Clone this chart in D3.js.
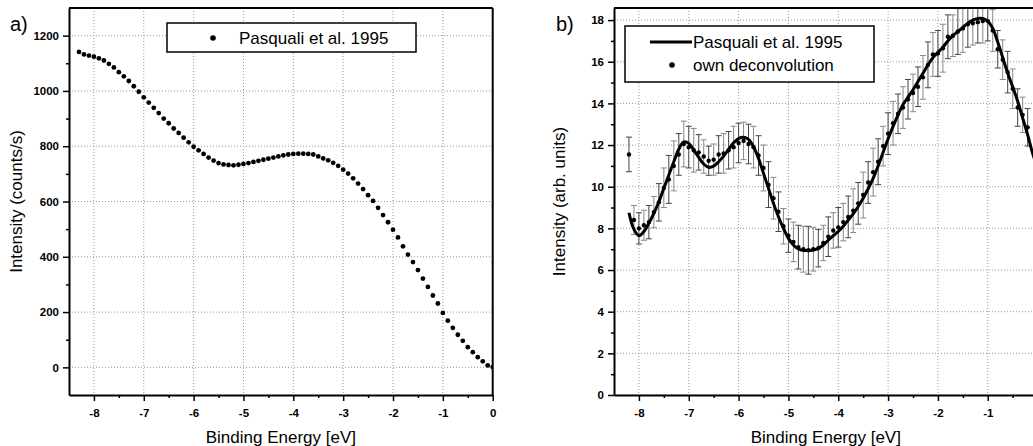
<!DOCTYPE html>
<html>
<head>
<meta charset="utf-8">
<script src="https://cdn.jsdelivr.net/npm/d3@7"></script>
<style>
  body { margin: 0; background: #fff; }
  svg text { font-family: "Liberation Sans", Arial, sans-serif; fill: #000; }
</style>
</head>
<body>
<script>
// panel a: Pasquali et al. 1995 (dots)
var energyA = [-8.3,-8.2,-8.1,-8.0,-7.9,-7.8,-7.7,-7.6,-7.5,-7.4,-7.3,-7.2,-7.1,-7.0,-6.9,-6.8,-6.7,-6.6,-6.5,-6.4,
  -6.3,-6.2,-6.1,-6.0,-5.9,-5.8,-5.7,-5.6,-5.5,-5.4,-5.3,-5.2,-5.1,-5.0,-4.9,-4.8,-4.7,-4.6,-4.5,-4.4,
  -4.3,-4.2,-4.1,-4.0,-3.9,-3.8,-3.7,-3.6,-3.5,-3.4,-3.3,-3.2,-3.1,-3.0,-2.9,-2.8,-2.7,-2.6,-2.5,-2.4,
  -2.3,-2.2,-2.1,-2.0,-1.9,-1.8,-1.7,-1.6,-1.5,-1.4,-1.3,-1.2,-1.1,-1.0,-0.9,-0.8,-0.7,-0.6,-0.5,-0.4,
  -0.3,-0.2,-0.1,0];
var countsA = [1141,1132,1128,1124,1118,1110,1098,1085,1068,1053,1036,1017,997,977,958,939,920,900,883,864,
  848,831,814,798,785,772,759,748,739,734,732,731,733,736,739,743,747,751,755,759,
  763,767,770,772,773,773,772,770,763,756,749,740,729,715,701,684,665,645,623,602,
  577,551,525,498,470,438,408,381,352,321,291,260,231,197,169,143,118,96,73,55,
  37,22,7,1];

// panel b: own deconvolution (dots + error bars)
var energyB = [-8.2,-8.1,-8.0,-7.9,-7.8,-7.7,-7.6,-7.5,-7.4,-7.3,-7.2,-7.1,-7.0,-6.9,-6.8,-6.7,-6.6,-6.5,-6.4,-6.3,
  -6.2,-6.1,-6.0,-5.9,-5.8,-5.7,-5.6,-5.5,-5.4,-5.3,-5.2,-5.1,-5.0,-4.9,-4.8,-4.7,-4.6,-4.5,-4.4,-4.3,
  -4.2,-4.1,-4.0,-3.9,-3.8,-3.7,-3.6,-3.5,-3.4,-3.3,-3.2,-3.1,-3.0,-2.9,-2.8,-2.7,-2.6,-2.5,-2.4,-2.3,
  -2.2,-2.1,-2.0,-1.9,-1.8,-1.7,-1.6,-1.5,-1.4,-1.3,-1.2,-1.1,-1.0,-0.9,-0.8,-0.7,-0.6,-0.5,-0.4,-0.3,
  -0.2];
var decoB = [11.55,8.40,8.00,8.15,8.30,8.78,9.25,9.95,10.35,11.00,11.55,12.05,11.90,11.75,11.65,11.45,11.25,11.30,11.55,11.60,
  11.75,11.90,12.10,12.20,12.05,11.90,11.50,10.90,10.10,9.45,8.80,8.10,7.65,7.35,7.10,7.00,6.95,7.00,7.05,7.30,
  7.60,7.90,8.05,8.30,8.55,8.85,9.20,9.60,10.20,10.70,11.20,11.95,12.55,13.05,13.50,13.80,14.20,14.50,14.80,15.25,
  15.85,16.35,16.40,16.65,17.20,17.25,17.45,17.60,17.80,17.85,17.90,17.95,17.95,17.50,16.60,16.10,15.50,14.70,13.80,13.45,
  12.85];
var errB = [0.83,0.70,0.75,0.72,0.80,0.75,0.90,0.95,1.15,1.20,1.00,1.10,1.00,1.05,0.85,0.80,0.70,0.75,0.90,0.95,
  0.90,1.00,0.95,0.90,0.95,1.00,0.95,1.10,1.10,1.00,0.95,0.85,0.80,0.95,1.05,1.10,1.15,1.05,0.90,0.85,
  0.95,0.85,0.95,0.90,1.00,1.05,1.00,1.10,1.00,1.15,1.10,0.95,1.00,1.05,0.95,1.00,0.95,0.90,0.95,1.05,
  1.10,1.05,1.10,1.15,1.05,1.00,1.10,1.15,1.10,1.05,1.00,1.05,0.95,1.00,0.90,0.95,1.00,0.95,0.90,0.85,
  0.90];

// panel b: Pasquali et al. 1995 (line)
var curveE = [-8.2,-8.1,-8.0,-7.9,-7.8,-7.7,-7.6,-7.5,-7.4,-7.3,-7.2,-7.1,-7.0,-6.9,-6.8,-6.7,-6.6,-6.5,-6.4,-6.3,
  -6.2,-6.1,-6.0,-5.9,-5.8,-5.7,-5.6,-5.5,-5.4,-5.3,-5.2,-5.1,-5.0,-4.9,-4.8,-4.7,-4.6,-4.5,-4.4,-4.3,
  -4.2,-4.1,-4.0,-3.9,-3.8,-3.7,-3.6,-3.5,-3.4,-3.3,-3.2,-3.1,-3.0,-2.9,-2.8,-2.7,-2.6,-2.5,-2.4,-2.3,
  -2.2,-2.1,-2.0,-1.9,-1.8,-1.7,-1.6,-1.5,-1.4,-1.3,-1.2,-1.1,-1.0,-0.9,-0.8,-0.7,-0.6,-0.5,-0.4,-0.3,
  -0.2,-0.1,0];
var curveB = [8.75,7.95,7.65,7.85,8.25,8.72,9.28,9.92,10.56,11.2,11.8,12.15,12.08,11.76,11.41,11.09,10.93,10.99,11.2,11.47,
  11.79,12.11,12.31,12.37,12.27,11.92,11.36,10.64,9.92,9.2,8.56,8.0,7.52,7.2,7.01,6.94,6.94,6.96,7.04,7.2,
  7.44,7.65,7.85,8.1,8.4,8.7,9.05,9.45,9.9,10.4,11.0,11.65,12.3,12.9,13.45,13.95,14.3,14.65,15.05,15.45,
  15.85,16.2,16.45,16.7,17.0,17.25,17.45,17.65,17.85,18.0,18.08,18.08,17.95,17.6,16.95,16.2,15.45,14.8,14.1,13.3,
  12.5,11.6,10.9];

var xTicksA = [-8,-7,-6,-5,-4,-3,-2,-1,0];
var xTicksB = [-8,-7,-6,-5,-4,-3,-2,-1];   // 0 lies outside the window
var xMinor = [-7.5,-6.5,-5.5,-4.5,-3.5,-2.5,-1.5,-0.5];
var yTicksA = [0,200,400,600,800,1000,1200];
var yMinorA = [100,300,500,700,900,1100];
var yTicksB = [0,2,4,6,8,10,12,14,16,18];
var yMinorB = [1,3,5,7,9,11,13,15,17];

var W = 1033, H = 446;
var top_ = 8, bottom = 395;

var svg = d3.select("body").append("svg")
    .attr("width", W)
    .attr("height", H);

svg.append("rect").attr("width", W).attr("height", H).attr("fill", "#fff");

var xA = d3.scaleLinear().domain([-8.5, 0]).range([69, 492.7]);
var yA = d3.scaleLinear().domain([-100, 1300]).range([bottom, top_]);
var xB = d3.scaleLinear().domain([-8.5, 0]).range([614, 1037.6]);
var yB = d3.scaleLinear().domain([0, 18.58]).range([bottom, top_]);

// dotted grid + clip rect for one panel
function frame(x, y, xTicks, yTicks, clipId) {
    var g = svg.append("g");
    var x0 = x.range()[0], x1 = x.range()[1];

    g.selectAll(".vgrid").data(xTicks.filter(function(d){ return d < 0; }))
        .enter().append("line")
        .attr("x1", function(d){ return x(d); })
        .attr("x2", function(d){ return x(d); })
        .attr("y1", top_).attr("y2", bottom)
        .attr("stroke", "#999").attr("stroke-width", 1)
        .attr("stroke-dasharray", "1,2");

    g.selectAll(".hgrid").data(yTicks)
        .enter().append("line")
        .attr("x1", x0).attr("x2", x1)
        .attr("y1", function(d){ return y(d); })
        .attr("y2", function(d){ return y(d); })
        .attr("stroke", "#999").attr("stroke-width", 1)
        .attr("stroke-dasharray", "1,2");

    svg.append("clipPath").attr("id", clipId)
        .append("rect")
        .attr("x", x0).attr("y", top_)
        .attr("width", x1 - x0).attr("height", bottom - top_);

    return g;
}

function axes(x, y, xTicks, yTicks, yMinor) {
    svg.append("g")
        .attr("transform", "translate(0," + bottom + ")")
        .call(d3.axisBottom(x).tickValues(xTicks).tickSize(6).tickSizeOuter(0)
            .tickPadding(8).tickFormat(function(d){ return String(d); }));
    svg.append("g")
        .attr("transform", "translate(0," + bottom + ")")
        .call(d3.axisBottom(x).tickValues(xMinor).tickSize(3).tickFormat(""))
        .select(".domain").remove();

    svg.append("g")
        .attr("transform", "translate(" + x.range()[0] + ",0)")
        .call(d3.axisLeft(y).tickValues(yTicks).tickSize(6).tickSizeOuter(0)
            .tickPadding(4).tickFormat(function(d){ return String(d); }));
    svg.append("g")
        .attr("transform", "translate(" + x.range()[0] + ",0)")
        .call(d3.axisLeft(y).tickValues(yMinor).tickSize(3).tickFormat(""))
        .select(".domain").remove();

    svg.selectAll(".domain").attr("stroke", "#000").attr("stroke-width", 2);
    svg.selectAll(".tick line").attr("stroke", "#000").attr("stroke-width", 1.5);
    svg.selectAll(".tick text")
        .attr("font-size", 11.5)
        .attr("font-weight", "bold")
        .attr("font-family", "'Liberation Sans', Arial, sans-serif");

    // top border
    svg.append("line")
        .attr("x1", x.range()[0]).attr("x2", x.range()[1])
        .attr("y1", top_).attr("y2", top_)
        .attr("stroke", "#000").attr("stroke-width", 2);
}

// ---- panel a ----
frame(xA, yA, xTicksA, yTicksA, "clipA");

svg.append("g").attr("clip-path", "url(#clipA)")
    .selectAll("circle").data(energyA)
    .enter().append("circle")
    .attr("cx", function(d){ return xA(d); })
    .attr("cy", function(d, i){ return yA(countsA[i]); })
    .attr("r", 2.4)
    .attr("fill", "#000");

axes(xA, yA, xTicksA, yTicksA, yMinorA);

svg.append("line")
    .attr("x1", xA(0)).attr("x2", xA(0))
    .attr("y1", top_).attr("y2", bottom)
    .attr("stroke", "#000").attr("stroke-width", 2);

// ---- panel b ----
frame(xB, yB, xTicksB, yTicksB, "clipB");

var gb = svg.append("g").attr("clip-path", "url(#clipB)");

gb.selectAll(".err").data(energyB)
    .enter().append("path")
    .attr("d", function(d, i){
        var px = xB(d), lo = yB(decoB[i] - errB[i]), hi = yB(decoB[i] + errB[i]);
        return "M" + px + "," + lo + "V" + hi +
            "M" + (px - 3) + "," + hi + "H" + (px + 3) +
            "M" + (px - 3) + "," + lo + "H" + (px + 3);
    })
    .attr("fill", "none")
    .attr("stroke", function(d, i){ return i % 2 ? "#888" : "#444"; })
    .attr("stroke-width", 1);

var line = d3.line()
    .x(function(d){ return xB(d); })
    .y(function(d, i){ return yB(curveB[i]); })
    .curve(d3.curveCatmullRom);

gb.append("path")
    .datum(curveE)
    .attr("d", line)
    .attr("fill", "none")
    .attr("stroke", "#000")
    .attr("stroke-width", 3);

gb.selectAll(".dot").data(energyB)
    .enter().append("circle")
    .attr("cx", function(d){ return xB(d); })
    .attr("cy", function(d, i){ return yB(decoB[i]); })
    .attr("r", 2.2)
    .attr("fill", "#000");

axes(xB, yB, xTicksB, yTicksB, yMinorB);

// ---- titles ----
svg.append("text").attr("x", 10).attr("y", 31).attr("font-size", 20).text("a)");
svg.append("text").attr("x", 556).attr("y", 31).attr("font-size", 20).text("b)");

svg.append("text")
    .attr("x", (xA.range()[0] + xA.range()[1]) / 2).attr("y", 443)
    .attr("text-anchor", "middle").attr("font-size", 17)
    .text("Binding Energy [eV]");
svg.append("text")
    .attr("x", (xB.range()[0] + xB.range()[1]) / 2).attr("y", 443)
    .attr("text-anchor", "middle").attr("font-size", 17)
    .text("Binding Energy [eV]");

svg.append("text")
    .attr("transform", "translate(22," + (top_ + bottom) / 2 + ") rotate(-90)")
    .attr("text-anchor", "middle").attr("font-size", 17)
    .text("Intensity (counts/s)");
svg.append("text")
    .attr("transform", "translate(565," + (top_ + bottom) / 2 + ") rotate(-90)")
    .attr("text-anchor", "middle").attr("font-size", 17)
    .text("Intensity (arb. units)");

// ---- legends ----
svg.append("rect")
    .attr("x", 167).attr("y", 23).attr("width", 249).attr("height", 29)
    .attr("fill", "#fff").attr("stroke", "#000").attr("stroke-width", 1.5);
svg.append("circle").attr("cx", 213).attr("cy", 38).attr("r", 2.8).attr("fill", "#000");
svg.append("text").attr("x", 239).attr("y", 43.5).attr("font-size", 17).text("Pasquali et al. 1995");

svg.append("rect")
    .attr("x", 625).attr("y", 26).attr("width", 249).attr("height", 56)
    .attr("fill", "#fff").attr("stroke", "#000").attr("stroke-width", 1.5);
svg.append("line")
    .attr("x1", 650).attr("x2", 692).attr("y1", 42).attr("y2", 42)
    .attr("stroke", "#000").attr("stroke-width", 3);
svg.append("circle").attr("cx", 672).attr("cy", 65).attr("r", 2.8).attr("fill", "#000");
svg.append("text").attr("x", 693).attr("y", 47.5).attr("font-size", 17).text("Pasquali et al. 1995");
svg.append("text").attr("x", 693).attr("y", 70.5).attr("font-size", 17).text("own deconvolution");
</script>
</body>
</html>
